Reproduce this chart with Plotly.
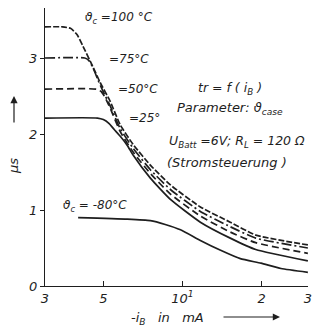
import math
import plotly.graph_objects as go

# ---- data ----
I_100 = [3.0, 3.5, 3.75, 3.97, 4.19, 4.57, 4.86, 5.31, 5.8, 6.5, 7.55, 9.0, 11.7, 15.2, 19.0, 30.0]
t_100 = [3.41, 3.41, 3.39, 3.31, 3.15, 2.88, 2.68, 2.43, 2.12, 1.86, 1.59, 1.33, 1.04, 0.84, 0.67, 0.54]

I_75 = [3.0, 4.25, 4.40, 4.57, 4.76, 4.99, 5.31, 5.8, 6.5, 7.55, 9.0, 11.7, 15.2, 19.0, 30.0]
t_75 = [3.0, 3.0, 2.97, 2.87, 2.72, 2.56, 2.37, 2.07, 1.81, 1.53, 1.27, 0.98, 0.78, 0.63, 0.50]

I_50 = [3.0, 4.72, 4.90, 5.08, 5.31, 5.8, 6.5, 7.55, 9.0, 11.7, 15.2, 19.0, 30.0]
t_50 = [2.59, 2.59, 2.56, 2.48, 2.34, 2.03, 1.76, 1.48, 1.21, 0.92, 0.71, 0.57, 0.43]

I_25 = [3.0, 4.75, 5.0, 5.25, 5.5, 5.8, 6.17, 6.5, 7.55, 9.0, 11.7, 15.2, 19.0, 30.0]
t_25 = [2.21, 2.21, 2.19, 2.14, 2.06, 1.97, 1.85, 1.72, 1.42, 1.14, 0.84, 0.63, 0.48, 0.33]

I_m80 = [4.01, 6.17, 7.55, 8.6, 9.83, 11.7, 13.97, 16.6, 19.9, 23.7, 30.0]
t_m80 = [0.90, 0.88, 0.86, 0.81, 0.74, 0.60, 0.47, 0.36, 0.30, 0.23, 0.18]

x_tickvals = [3, 5, 10, 20, 30]
x_ticktext = ["3", "5", "10<sup>1</sup>", "2", "3"]
y_tickvals = [0, 1, 2, 3]
y_ticktext = ["0", "1", "2", "3"]

INK = "#1e1e1e"
FONT = "DejaVu Sans"

# plot area in pixels
L, R, T, B = 45, 308, 8, 286
W, H = 312, 332


def P(xp, yp):
    return (xp - L) / (R - L), (B - yp) / (B - T)


fig = go.Figure()

series = [
    (I_100, t_100, "6px,2px"),
    (I_75, t_75, "10px,3px,2px,3px"),
    (I_50, t_50, "7px,4px"),
    (I_25, t_25, "solid"),
    (I_m80, t_m80, "solid"),
]
for xs, ys, dash in series:
    fig.add_trace(go.Scatter(
        x=xs, y=ys, mode="lines",
        line=dict(color=INK, width=1.7, dash=dash, shape="spline", smoothing=0.5),
        showlegend=False, hoverinfo="skip", cliponaxis=False))

fig.update_layout(
    width=W, height=H,
    margin=dict(l=L, r=W - R, t=T, b=H - B, pad=0, autoexpand=False),
    paper_bgcolor="white", plot_bgcolor="white",
    font=dict(family=FONT, size=13, color=INK),
    xaxis=dict(type="log", range=[math.log10(3), math.log10(30) + 0.0005],
               tickvals=x_tickvals, ticktext=x_ticktext,
               ticks="inside", ticklen=5, tickcolor=INK, tickwidth=1,
               showline=True, linecolor=INK, linewidth=1.2,
               showgrid=False, zeroline=False, automargin=False,
               ticklabeloverflow="allow",
               tickfont=dict(family=FONT, size=13, style="italic")),
    yaxis=dict(range=[0, (B - T) / 76.0],
               tickvals=y_tickvals, ticktext=y_ticktext,
               ticks="outside", ticklen=4, tickcolor=INK, tickwidth=1,
               showline=True, linecolor=INK, linewidth=1.2,
               showgrid=False, zeroline=False, automargin=False,
               tickfont=dict(family=FONT, size=13, style="italic")),
)


def ann(text, xp, yp, xanchor="left", size=12, angle=0):
    x, y = P(xp, yp)
    fig.add_annotation(x=x, y=y, xref="paper", yref="paper", text=text,
                       showarrow=False, xanchor=xanchor, yanchor="middle",
                       textangle=angle,
                       font=dict(family=FONT, size=size, color=INK, style="italic"))


ann("ϑ<sub>c</sub> =100 °C", 83, 18)
ann("=75°C", 107, 59)
ann("=50°C", 116, 89)
ann("=25°", 127, 118)
ann("ϑ<sub>c</sub> = -80°C", 61, 206)
ann("tr = f ( i<sub>B</sub> )", 230, 88, xanchor="center", size=12.5)
ann("Parameter: ϑ<sub>case</sub>", 175, 109, size=13)
ann("U<sub>Batt</sub> =6V; R<sub>L</sub> = 120 Ω", 167, 141, size=12.5)
ann("(Stromsteuerung )", 165, 162, size=13)
ann("µs", 13, 166, xanchor="center", angle=-90, size=13)
ann("-i<sub>B</sub>   in   mA", 129, 318, size=13)

# arrows
hx, hy = P(14, 96)
fig.add_annotation(x=hx, y=hy, xref="paper", yref="paper", ax=0, ay=28,
                   showarrow=True, arrowhead=2, arrowsize=1.2, arrowwidth=1.2,
                   arrowcolor=INK, text="")
hx, hy = P(280, 317)
fig.add_annotation(x=hx, y=hy, xref="paper", yref="paper", ax=-58, ay=0,
                   showarrow=True, arrowhead=2, arrowsize=1.2, arrowwidth=1.2,
                   arrowcolor=INK, text="")

fig.write_html(
    "out.html",
    config={"displayModeBar": False},
    post_script="document.body.style.margin='0';document.body.style.overflow='hidden';",
)
